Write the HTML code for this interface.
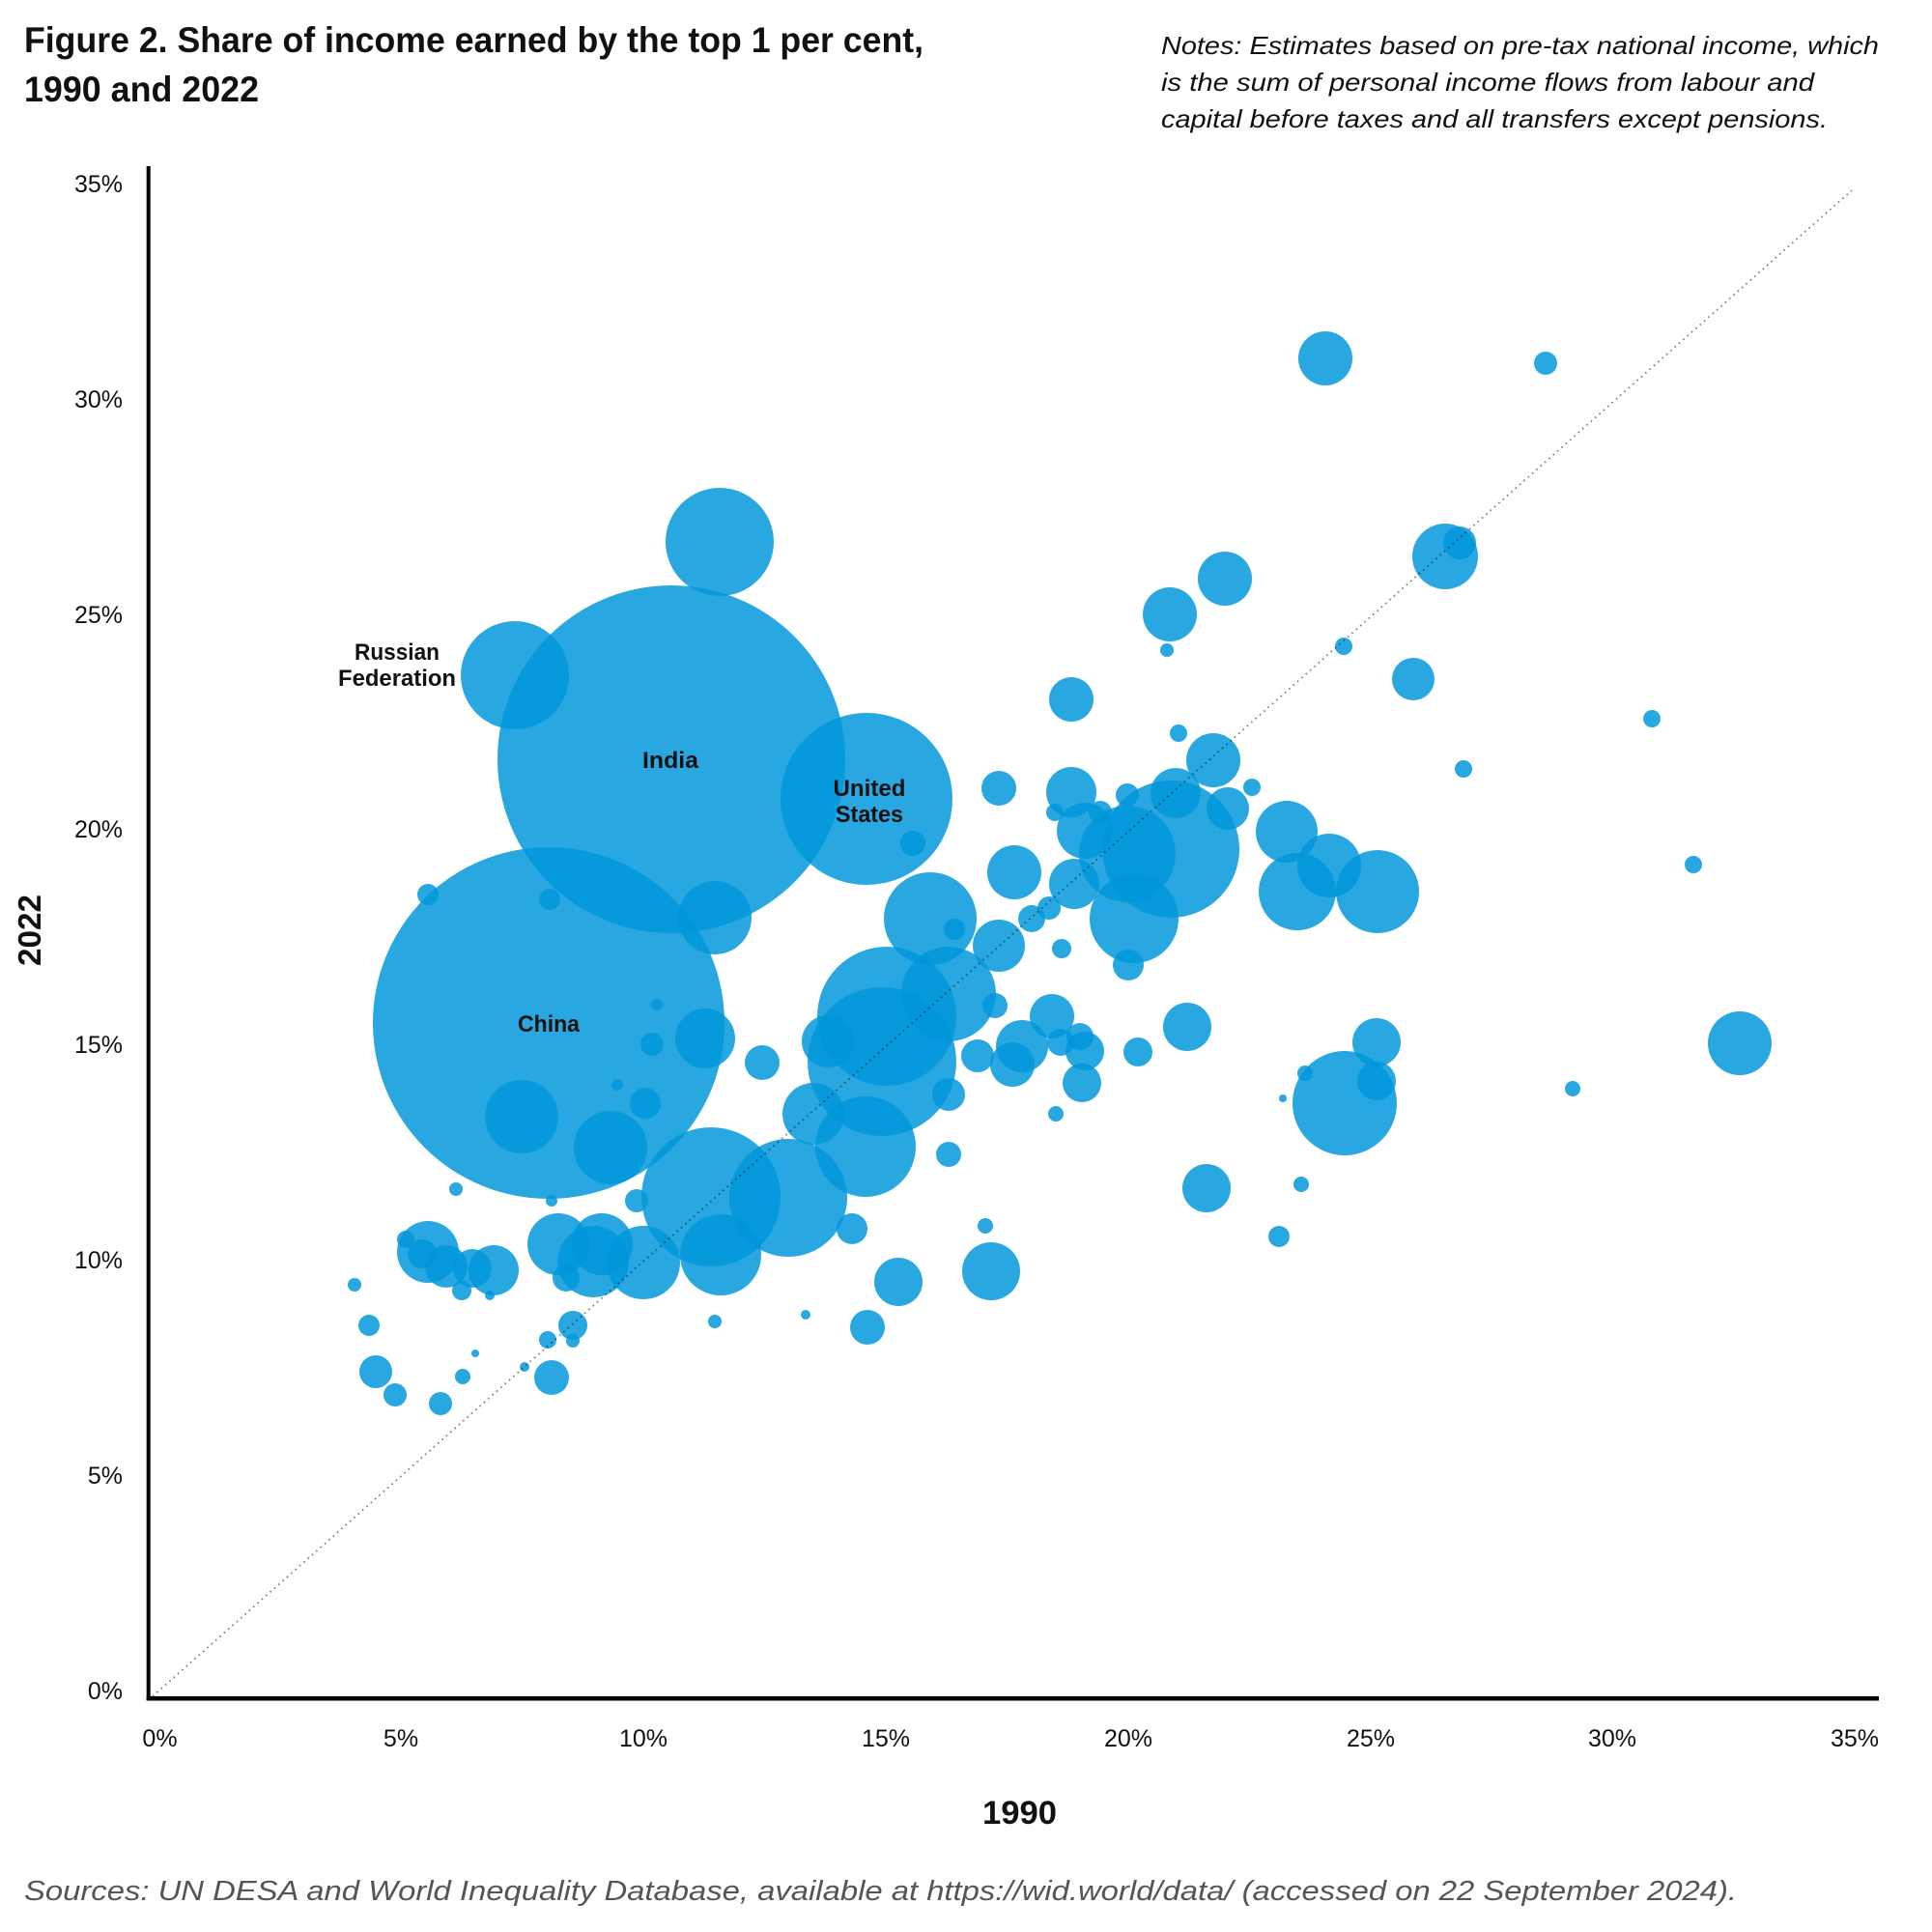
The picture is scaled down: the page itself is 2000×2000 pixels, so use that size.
<!DOCTYPE html>
<html>
<head>
<meta charset="utf-8">
<style>
html,body{margin:0;padding:0;background:#fff;}
svg{display:block;}
text{font-family:"Liberation Sans", sans-serif;}
</style>
</head>
<body>
<svg xmlns="http://www.w3.org/2000/svg" width="2000" height="2000" viewBox="0 0 2000 2000">
<rect x="0" y="0" width="2000" height="2000" fill="#fff"/>

<!-- Title -->
<text x="25" y="54" font-size="37" font-weight="bold" fill="#111" textLength="931" lengthAdjust="spacingAndGlyphs">Figure 2. Share of income earned by the top 1 per cent,</text>
<text x="25" y="105" font-size="37" font-weight="bold" fill="#111" textLength="243" lengthAdjust="spacingAndGlyphs">1990 and 2022</text>

<!-- Notes -->
<g font-size="26" font-style="italic" fill="#111">
<text x="1202" y="56" textLength="743" lengthAdjust="spacingAndGlyphs">Notes: Estimates based on pre-tax national income, which</text>
<text x="1202" y="94" textLength="676" lengthAdjust="spacingAndGlyphs">is the sum of personal income flows from labour and</text>
<text x="1202" y="132" textLength="690" lengthAdjust="spacingAndGlyphs">capital before taxes and all transfers except pensions.</text>
</g>

<!-- Bubbles -->
<g fill="#0096da" fill-opacity="0.84">
<circle cx="568" cy="1059" r="182"/>
<circle cx="695" cy="786" r="180"/>
<circle cx="897" cy="827" r="89"/>
<circle cx="533" cy="699" r="56"/>
<circle cx="745" cy="561" r="56"/>
<circle cx="443" cy="926" r="11"/>
<circle cx="569" cy="931" r="11"/>
<circle cx="740" cy="950" r="38"/>
<circle cx="730" cy="1075" r="31"/>
<circle cx="680" cy="1040" r="6"/>
<circle cx="675" cy="1081" r="12"/>
<circle cx="639" cy="1123" r="6"/>
<circle cx="668" cy="1142" r="16"/>
<circle cx="540" cy="1156" r="38"/>
<circle cx="632" cy="1188" r="38"/>
<circle cx="472" cy="1231" r="7"/>
<circle cx="571" cy="1243" r="6"/>
<circle cx="659" cy="1243" r="12"/>
<circle cx="736" cy="1239" r="72"/>
<circle cx="816" cy="1240" r="61"/>
<circle cx="746" cy="1299" r="42"/>
<circle cx="842" cy="1153" r="32"/>
<circle cx="443" cy="1296" r="32"/>
<circle cx="420" cy="1283" r="9"/>
<circle cx="437" cy="1298" r="15"/>
<circle cx="462" cy="1311" r="22"/>
<circle cx="489" cy="1313" r="20"/>
<circle cx="511" cy="1315" r="26"/>
<circle cx="478" cy="1336" r="10"/>
<circle cx="507" cy="1341" r="5"/>
<circle cx="367" cy="1330" r="7"/>
<circle cx="578" cy="1288" r="32"/>
<circle cx="623" cy="1288" r="32"/>
<circle cx="614" cy="1306" r="37"/>
<circle cx="586" cy="1323" r="14"/>
<circle cx="666" cy="1307" r="38"/>
<circle cx="382" cy="1372" r="11"/>
<circle cx="593" cy="1372" r="15"/>
<circle cx="567" cy="1387" r="9"/>
<circle cx="593" cy="1388" r="7"/>
<circle cx="492" cy="1401" r="4"/>
<circle cx="543" cy="1415" r="5"/>
<circle cx="389" cy="1420" r="17"/>
<circle cx="479" cy="1425" r="8"/>
<circle cx="571" cy="1426" r="18"/>
<circle cx="409" cy="1444" r="12"/>
<circle cx="456" cy="1453" r="12"/>
<circle cx="740" cy="1368" r="7"/>
<circle cx="834" cy="1361" r="5"/>
<circle cx="963" cy="951" r="48"/>
<circle cx="988" cy="962" r="11"/>
<circle cx="1050" cy="903" r="28"/>
<circle cx="1112" cy="915" r="26"/>
<circle cx="1068" cy="951" r="14"/>
<circle cx="1086" cy="940" r="12"/>
<circle cx="1174" cy="951" r="46"/>
<circle cx="1168" cy="999" r="16"/>
<circle cx="1099" cy="982" r="10"/>
<circle cx="1034" cy="979" r="27"/>
<circle cx="918" cy="1052" r="72"/>
<circle cx="982" cy="1029" r="49"/>
<circle cx="913" cy="1099" r="77"/>
<circle cx="857" cy="1078" r="27"/>
<circle cx="789" cy="1100" r="18"/>
<circle cx="1030" cy="1041" r="13"/>
<circle cx="1089" cy="1052" r="23"/>
<circle cx="1058" cy="1083" r="27"/>
<circle cx="1048" cy="1102" r="23"/>
<circle cx="1012" cy="1093" r="17"/>
<circle cx="1098" cy="1079" r="14"/>
<circle cx="1118" cy="1073" r="14"/>
<circle cx="1123" cy="1088" r="20"/>
<circle cx="1120" cy="1121" r="20"/>
<circle cx="1093" cy="1153" r="8"/>
<circle cx="1178" cy="1089" r="15"/>
<circle cx="1229" cy="1063" r="25"/>
<circle cx="982" cy="1133" r="17"/>
<circle cx="896" cy="1187" r="52"/>
<circle cx="882" cy="1272" r="16"/>
<circle cx="982" cy="1195" r="13"/>
<circle cx="1020" cy="1269" r="8"/>
<circle cx="1026" cy="1316" r="30"/>
<circle cx="930" cy="1327" r="25"/>
<circle cx="898" cy="1374" r="18"/>
<circle cx="1249" cy="1230" r="25"/>
<circle cx="1268" cy="599" r="28"/>
<circle cx="1211" cy="636" r="28"/>
<circle cx="1208" cy="673" r="7"/>
<circle cx="1496" cy="576" r="34"/>
<circle cx="1511" cy="562" r="17"/>
<circle cx="1391" cy="669" r="9"/>
<circle cx="1463" cy="703" r="22"/>
<circle cx="1109" cy="724" r="23"/>
<circle cx="1220" cy="759" r="9"/>
<circle cx="1256" cy="787" r="28"/>
<circle cx="1515" cy="796" r="9"/>
<circle cx="1296" cy="815" r="9"/>
<circle cx="1271" cy="837" r="22"/>
<circle cx="1217" cy="821" r="26"/>
<circle cx="1109" cy="820" r="26"/>
<circle cx="1167" cy="823" r="12"/>
<circle cx="1092" cy="841" r="9"/>
<circle cx="1139" cy="841" r="12"/>
<circle cx="1123" cy="860" r="29"/>
<circle cx="1212" cy="879" r="71"/>
<circle cx="1167" cy="884" r="50"/>
<circle cx="1332" cy="861" r="32"/>
<circle cx="1376" cy="896" r="33"/>
<circle cx="1343" cy="923" r="40"/>
<circle cx="1426" cy="923" r="43"/>
<circle cx="1372" cy="371" r="28"/>
<circle cx="1600" cy="376" r="12"/>
<circle cx="1710" cy="744" r="9"/>
<circle cx="1753" cy="895" r="9"/>
<circle cx="1801" cy="1080" r="33"/>
<circle cx="1425" cy="1079" r="25"/>
<circle cx="1392" cy="1142" r="54"/>
<circle cx="1425" cy="1119" r="20"/>
<circle cx="1351" cy="1111" r="8"/>
<circle cx="1328" cy="1137" r="4"/>
<circle cx="1628" cy="1127" r="8"/>
<circle cx="1347" cy="1226" r="8"/>
<circle cx="1324" cy="1280" r="11"/>
<circle cx="1034" cy="816" r="18"/>
<circle cx="945" cy="873" r="13"/>
</g>

<!-- Diagonal dotted line -->
<line x1="158" y1="1756" x2="1917" y2="197" stroke="#000" stroke-opacity="0.5" stroke-width="1.8" stroke-dasharray="1.6 4.2"/>

<!-- Axes -->
<line x1="153.7" y1="172" x2="153.7" y2="1760" stroke="#000" stroke-width="4"/>
<line x1="151.7" y1="1758.3" x2="1945" y2="1758.3" stroke="#000" stroke-width="4.5"/>

<!-- Y tick labels -->
<g font-size="25" fill="#111" text-anchor="end">
<text x="127" y="1759">0%</text>
<text x="127" y="1536">5%</text>
<text x="127" y="1313">10%</text>
<text x="127" y="1090">15%</text>
<text x="127" y="867">20%</text>
<text x="127" y="645">25%</text>
<text x="127" y="422">30%</text>
<text x="127" y="199">35%</text>
</g>

<!-- X tick labels -->
<g font-size="25" fill="#111" text-anchor="middle">
<text x="165.5" y="1808">0%</text>
<text x="415" y="1808">5%</text>
<text x="666" y="1808">10%</text>
<text x="917" y="1808">15%</text>
<text x="1168" y="1808">20%</text>
<text x="1419" y="1808">25%</text>
<text x="1669" y="1808">30%</text>
<text x="1920" y="1808">35%</text>
</g>

<!-- Axis titles -->
<text x="1017" y="1888" font-size="34" font-weight="bold" fill="#111" textLength="77" lengthAdjust="spacingAndGlyphs">1990</text>
<text transform="translate(42,1000) rotate(-90)" x="0" y="0" font-size="33" font-weight="bold" fill="#111" textLength="74" lengthAdjust="spacingAndGlyphs">2022</text>

<!-- Bubble labels -->
<g font-size="24" font-weight="bold" fill="#111" text-anchor="middle">
<text x="411" y="683" textLength="88" lengthAdjust="spacingAndGlyphs">Russian</text>
<text x="411" y="710" textLength="122" lengthAdjust="spacingAndGlyphs">Federation</text>
<text x="694" y="795" textLength="58" lengthAdjust="spacingAndGlyphs">India</text>
<text x="900" y="824" textLength="75" lengthAdjust="spacingAndGlyphs">United</text>
<text x="900" y="851" textLength="70" lengthAdjust="spacingAndGlyphs">States</text>
<text x="568" y="1068" textLength="64" lengthAdjust="spacingAndGlyphs">China</text>
</g>

<!-- Sources -->
<text x="25" y="1967" font-size="29" font-style="italic" fill="#555" textLength="1773" lengthAdjust="spacingAndGlyphs">Sources: UN DESA and World Inequality Database, available at https://wid.world/data/ (accessed on 22 September 2024).</text>
</svg>
</body>
</html>
